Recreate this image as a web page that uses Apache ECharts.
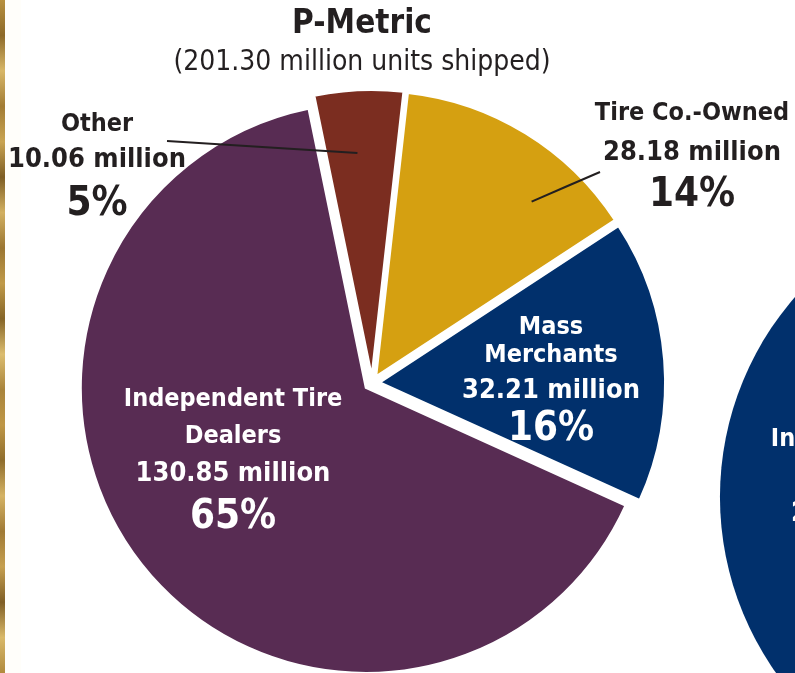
<!DOCTYPE html>
<html>
<head>
<meta charset="utf-8">
<title>P-Metric replacement tire shipments</title>
<script src="https://cdn.jsdelivr.net/npm/echarts@6/dist/echarts.min.js"></script>
<style>
  html, body { margin: 0; padding: 0; background: #ffffff; }
  #chart { width: 795px; height: 673px; }
</style>
</head>
<body>
<div id="chart"></div>
<script>
// Replacement P-Metric shipments by outlet (million units)
const categories = ['Other', 'Tire Co.-Owned', 'Mass\nMerchants', 'Independent Tire\nDealers'];
const shipments = [10.06, 28.18, 32.21, 130.85];

// Neighbouring light-truck pie, only its left edge is in view
const ltCategories = ['Independent Tire\nDealers'];
const ltShipments = [24.50];

const FONT = '"DejaVu Sans Condensed", "DejaVu Sans", sans-serif';
const INK = '#231f20';
const colors = ['#7b2d20', '#d5a011', '#01306c', '#582c53'];

const total = shipments.reduce((a, b) => a + b, 0);

// Label placement for each outlet: centre of text block, line heights,
// and for outside labels the leader line (outer end relative to the label,
// inner end as angular fraction / radius fraction inside the slice).
const placement = [
  { x: 97,  y: 169, lh: [36, 36, 54], outside: true, lineOuter: [70, -28], inner: [0.44, 0.78] },
  { x: 692, y: 156, lh: [40, 40, 46], outside: true, lineOuter: [-92, 16], inner: [0.70, 0.82] },
  { x: 551, y: 380, lh: [28, 44, 34], outside: false },
  { x: 233, y: 462, lh: [37, 37, 51], outside: false }
];

const PIE_CENTER = ['46.8%', '56.9%'];
const PIE_RADIUS = 285;
const PIE_START = 101.6;
const SELECT_OFFSET = 8;

function richFor(color, lh) {
  return {
    n: { fontFamily: FONT, fontWeight: 'bold', fontSize: 25, color: color, lineHeight: lh[0], align: 'center' },
    v: { fontFamily: FONT, fontWeight: 'bold', fontSize: 27, color: color, lineHeight: lh[1], align: 'center' },
    p: { fontFamily: FONT, fontWeight: 'bold', fontSize: 40, color: color, lineHeight: lh[2], align: 'center' }
  };
}

function labelText(p) {
  const pct = Math.round(p.value / total * 100);
  return '{n|' + p.name + '}\n{v|' + p.value.toFixed(2) + ' million}\n{p|' + pct + '%}';
}

// Slices, each pulled out a little from the centre
const sliceData = categories.map((name, i) => ({
  name: name,
  value: shipments[i],
  selected: true,
  itemStyle: { color: colors[i] }
}));

// Same slices again, transparent, carrying the labels and leader lines
const labelData = categories.map((name, i) => {
  const pl = placement[i];
  return {
    name: name,
    value: shipments[i],
    label: {
      position: pl.outside ? 'outside' : 'inside',
      rich: richFor(pl.outside ? INK : '#ffffff', pl.lh)
    },
    labelLine: { show: pl.outside }
  };
});

const ltTotal = ltShipments.reduce((a, b) => a + b, 0);
const ltData = ltCategories.map((name, i) => ({
  name: name,
  value: ltShipments[i],
  itemStyle: { color: '#01306c' }
}));

// Textured gold edge down the left side
const edgeShades = ['#b8913f', '#8d6a29', '#d8b767', '#a27c33', '#c9a452', '#7e5e24',
  '#d2b060', '#9b7631', '#c09a48', '#866526', '#dcbd6e', '#a9843a', '#bf9745', '#8f6d2b',
  '#d5b363', '#a07a34', '#c6a04f', '#805f25', '#d9b969', '#b08a3d'];
const edgeStops = edgeShades.map((c, i) => ({ offset: i / (edgeShades.length - 1), color: c }));

const chart = echarts.init(document.getElementById('chart'), null, { renderer: 'canvas' });

// Point inside a drawn slice: angular fraction across the slice, radius fraction
function innerPoint(dataIndex, frac) {
  const data = chart.getModel().getSeriesByIndex(0).getData();
  const lay = data.getItemLayout(dataIndex);
  const a0 = lay.startAngle, a1 = lay.endAngle;
  const mid = (a0 + a1) / 2;
  const a = a0 + frac[0] * (a1 - a0);
  const ox = SELECT_OFFSET * Math.cos(mid), oy = SELECT_OFFSET * Math.sin(mid);
  const rr = frac[1] * lay.r;
  return [lay.cx + ox + rr * Math.cos(a), lay.cy + oy + rr * Math.sin(a)];
}

const option = {
  backgroundColor: '#ffffff',
  animation: false,
  graphic: [
    {
      type: 'rect', left: 5, top: 0, z: 0,
      shape: { width: 16, height: 673 },
      style: { fill: '#fffefa' }
    },
    {
      type: 'rect', left: 0, top: 0, z: 10,
      shape: { width: 5, height: 673 },
      style: { fill: { type: 'linear', x: 0, y: 0, x2: 0, y2: 1, colorStops: edgeStops } }
    },
    {
      type: 'text', x: 362, y: 24, z: 20,
      style: {
        text: 'P-Metric', fontFamily: FONT, fontWeight: 'bold', fontSize: 33,
        fill: INK, align: 'center', verticalAlign: 'middle'
      }
    },
    {
      type: 'text', x: 362, y: 63, z: 20,
      style: {
        text: '(' + total.toFixed(2) + ' million units shipped)', fontFamily: FONT,
        fontWeight: 'normal', fontSize: 28, fill: INK, align: 'center', verticalAlign: 'middle'
      }
    }
  ],
  series: [
    {
      type: 'pie',
      center: PIE_CENTER,
      radius: PIE_RADIUS,
      startAngle: PIE_START,
      clockwise: true,
      selectedMode: 'multiple',
      selectedOffset: SELECT_OFFSET,
      silent: true,
      emphasis: { disabled: true },
      itemStyle: { borderColor: '#ffffff', borderWidth: 2 },
      label: { show: false },
      labelLine: { show: false },
      data: sliceData
    },
    {
      type: 'pie',
      center: PIE_CENTER,
      radius: PIE_RADIUS,
      startAngle: PIE_START,
      clockwise: true,
      z: 5,
      silent: true,
      avoidLabelOverlap: false,
      emphasis: { disabled: true },
      itemStyle: { color: 'rgba(0,0,0,0)', borderWidth: 0 },
      label: { show: true, formatter: labelText },
      labelLine: { show: true, lineStyle: { color: INK, width: 2 }, length: 20, length2: 20 },
      labelLayout: function (p) {
        const pl = placement[p.dataIndex];
        const res = { x: pl.x, y: pl.y, align: 'center', verticalAlign: 'middle' };
        if (pl.outside) {
          try {
            const outer = [pl.x + pl.lineOuter[0], pl.y + pl.lineOuter[1]];
            const inner = innerPoint(p.dataIndex, pl.inner);
            res.labelLinePoints = [outer, [(outer[0] + inner[0]) / 2, (outer[1] + inner[1]) / 2], inner];
          } catch (e) { /* keep default leader line */ }
        }
        return res;
      },
      data: labelData
    },
    {
      type: 'pie',
      center: ['128.8%', '73.85%'],
      radius: 304,
      startAngle: 90,
      silent: true,
      emphasis: { disabled: true },
      avoidLabelOverlap: false,
      label: {
        show: true,
        position: 'inside',
        formatter: function (p) {
          const pct = Math.round(p.value / ltTotal * 100);
          return '{n|' + p.name + '}\n{v|' + p.value.toFixed(2) + ' million}\n{p|' + pct + '%}';
        },
        rich: richFor('#ffffff', [37, 37, 51])
      },
      labelLine: { show: false },
      labelLayout: function () {
        return { x: 880, y: 502, align: 'center', verticalAlign: 'middle' };
      },
      data: ltData
    }
  ]
};

chart.setOption(option);
</script>
</body>
</html>
